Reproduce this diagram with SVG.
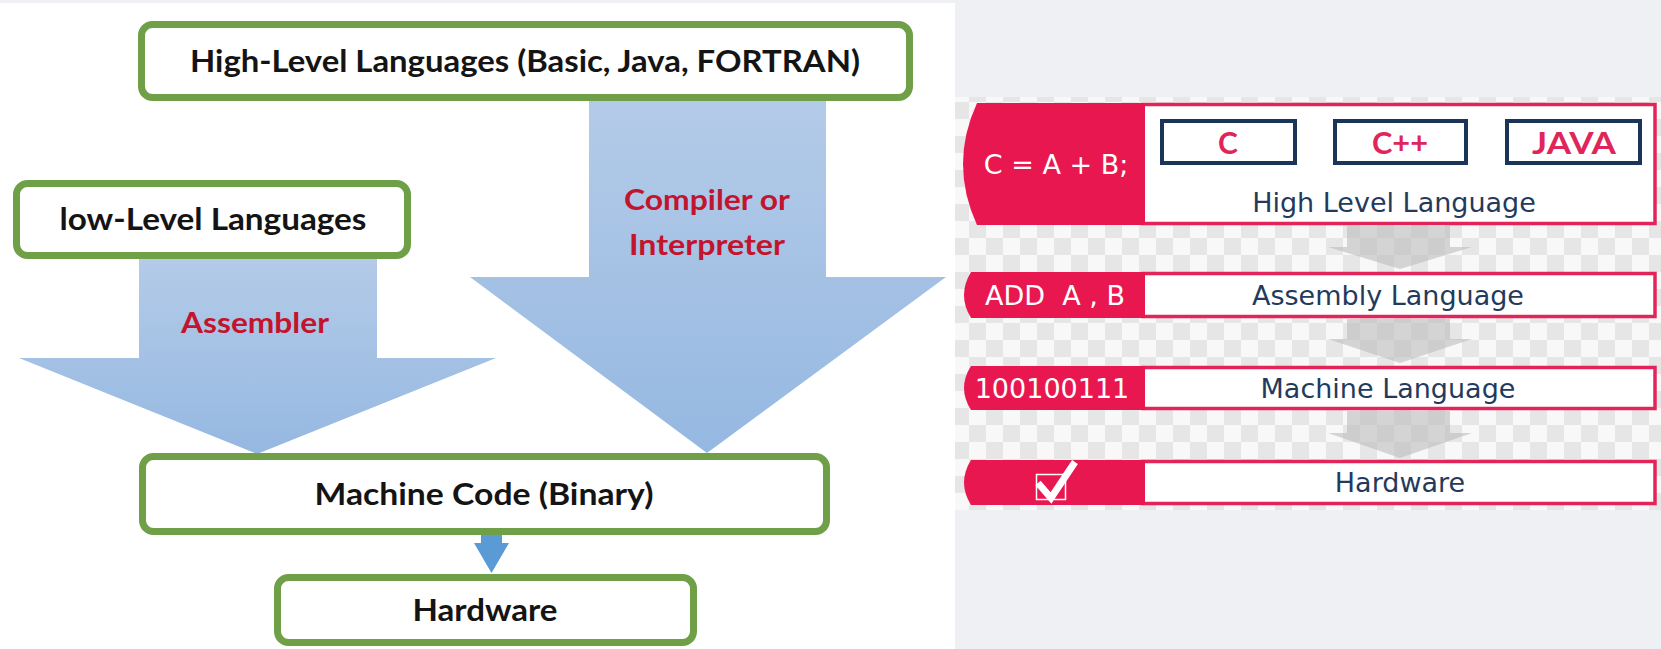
<svg xmlns="http://www.w3.org/2000/svg" width="1661" height="649" viewBox="0 0 1661 649">
  <style>
    .gbox { fill: #ffffff; stroke: #6fa048; stroke-width: 7; }
    .blk { font-family: Lato, "Open Sans", sans-serif; font-weight: 700; font-size: 31px; fill: #141414; text-anchor: middle; }
    .red { font-family: Lato, "Open Sans", sans-serif; font-weight: 700; font-size: 28px; fill: #c3142e; text-anchor: middle; }
    .rowbox { fill: #ffffff; stroke: #e2245a; stroke-width: 3.5; }
    .rowtab { fill: #e8174f; }
    .rlab { font-family: "DejaVu Sans", Verdana, sans-serif; font-size: 27px; fill: #233a5c; text-anchor: middle; }
    .wlab { font-family: "DejaVu Sans", Verdana, sans-serif; font-size: 27px; fill: #ffffff; text-anchor: middle; }
    .lang { fill: #ffffff; stroke: #1b3558; stroke-width: 4; }
    .langt { font-family: Lato, "DejaVu Sans", sans-serif; font-weight: 700; font-size: 30px; fill: #e0255a; text-anchor: middle; }
    .garrow { fill: #bdbdbd; opacity: 0.6; }
  </style>
  <defs>
    <linearGradient id="blue" x1="0" y1="0" x2="0" y2="1">
      <stop offset="0" stop-color="#b4cbe8"/>
      <stop offset="1" stop-color="#95b8e1"/>
    </linearGradient>
    <pattern id="checker" width="34" height="34" patternUnits="userSpaceOnUse">
      <rect width="34" height="34" fill="#f8f8f8"/>
      <rect width="17" height="17" fill="#e6e6e6"/>
      <rect x="17" y="17" width="17" height="17" fill="#e6e6e6"/>
    </pattern>
  </defs>

  <!-- page backgrounds -->
  <rect width="1661" height="649" fill="#eef0f4"/>
  <rect x="0" y="3" width="955" height="646" fill="#ffffff"/>
  <rect x="955" y="97" width="706" height="413" fill="url(#checker)"/>

  <!-- left flow: block arrows and the small link arrow; right flow: grey arrows -->
  <g id="connectors">
    <path id="arrow-assembler" d="M139 258 L377 258 L377 358 L496 358 L257 454 L19 358 L139 358 Z" fill="url(#blue)"/>
    <path id="arrow-compiler" d="M589 101 L826 101 L826 277 L946 277 L707 453 L470 277 L589 277 Z" fill="url(#blue)"/>
    <path id="arrow-hw" d="M481 533 L502 533 L502 543 L509 543 L491.5 573 L474 543 L481 543 Z" fill="#5b9bd5"/>
    <text class="red" x="255" y="333" textLength="148" lengthAdjust="spacingAndGlyphs">Assembler</text>
    <text class="red" x="707" y="210" textLength="166" lengthAdjust="spacingAndGlyphs">Compiler or</text>
    <text class="red" x="707" y="255" textLength="156" lengthAdjust="spacingAndGlyphs">Interpreter</text>

    <path class="garrow" d="M1347 226 L1450 226 L1450 247 L1472 247 L1400 269 L1328 247 L1347 247 Z"/>
    <path class="garrow" d="M1347 319 L1450 319 L1450 339 L1472 339 L1400 363 L1328 339 L1347 339 Z"/>
    <path class="garrow" d="M1347 411 L1450 411 L1450 433 L1472 433 L1400 458 L1328 433 L1347 433 Z"/>
  </g>

  <g id="high-level">
    <rect class="gbox" x="141.5" y="24.5" width="768" height="73" rx="11"/>
    <text class="blk" x="525" y="72" textLength="670" lengthAdjust="spacingAndGlyphs">High-Level Languages (Basic, Java, FORTRAN)</text>
  </g>

  <g id="low-level">
    <rect class="gbox" x="16.5" y="183.5" width="391" height="72" rx="11"/>
    <text class="blk" x="213" y="230" textLength="307" lengthAdjust="spacingAndGlyphs">low-Level Languages</text>
  </g>

  <g id="machine-code">
    <rect class="gbox" x="142.5" y="456.5" width="684" height="75" rx="11"/>
    <text class="blk" x="484" y="505" textLength="339" lengthAdjust="spacingAndGlyphs">Machine Code (Binary)</text>
  </g>

  <g id="hardware">
    <rect class="gbox" x="277.5" y="577.5" width="416" height="65" rx="11"/>
    <text class="blk" x="485" y="621" textLength="145" lengthAdjust="spacingAndGlyphs">Hardware</text>
  </g>

  <!-- right stack -->
  <g id="row-high">
    <rect class="rowbox" x="1143" y="104.5" width="512" height="119"/>
    <path class="rowtab" d="M1145 103 L977 103 Q949 164 977 225 L1145 225 Z"/>
    <text class="wlab" x="1056" y="174">C = A + B;</text>
    <rect class="lang" x="1162" y="121" width="133" height="42"/>
    <rect class="lang" x="1335" y="121" width="131" height="42"/>
    <rect class="lang" x="1507" y="121" width="133" height="42"/>
    <text class="langt" x="1228" y="154">C</text>
    <text class="langt" x="1400" y="154" textLength="56" lengthAdjust="spacingAndGlyphs">C++</text>
    <text class="langt" x="1574" y="154" textLength="84" lengthAdjust="spacingAndGlyphs">JAVA</text>
    <text class="rlab" x="1394" y="212">High Level Language</text>
  </g>

  <g id="row-assembly">
    <rect class="rowbox" x="1143" y="273.5" width="512" height="43"/>
    <path class="rowtab" d="M1145 272 L971 272 Q957 295 971 318 L1145 318 Z"/>
    <text class="wlab" x="1055" y="305" xml:space="preserve">ADD  A , B</text>
    <text class="rlab" x="1388" y="305">Assembly Language</text>
  </g>

  <g id="row-machine">
    <rect class="rowbox" x="1143" y="367.5" width="512" height="41"/>
    <path class="rowtab" d="M1145 366 L971 366 Q957 388 971 410 L1145 410 Z"/>
    <text class="wlab" x="1052" y="398">100100111</text>
    <text class="rlab" x="1388" y="398">Machine Language</text>
  </g>

  <g id="row-hardware">
    <rect class="rowbox" x="1143" y="461.5" width="512" height="42"/>
    <path class="rowtab" d="M1145 460 L971 460 Q957 482.5 971 505 L1145 505 Z"/>
    <rect x="1036.5" y="474.5" width="29" height="25" fill="none" stroke="#ffffff" stroke-width="1.5"/>
    <polyline points="1038,483 1051,498 1075,462" fill="none" stroke="#ffffff" stroke-width="7" stroke-linejoin="miter"/>
    <text class="rlab" x="1400" y="492">Hardware</text>
  </g>
</svg>
